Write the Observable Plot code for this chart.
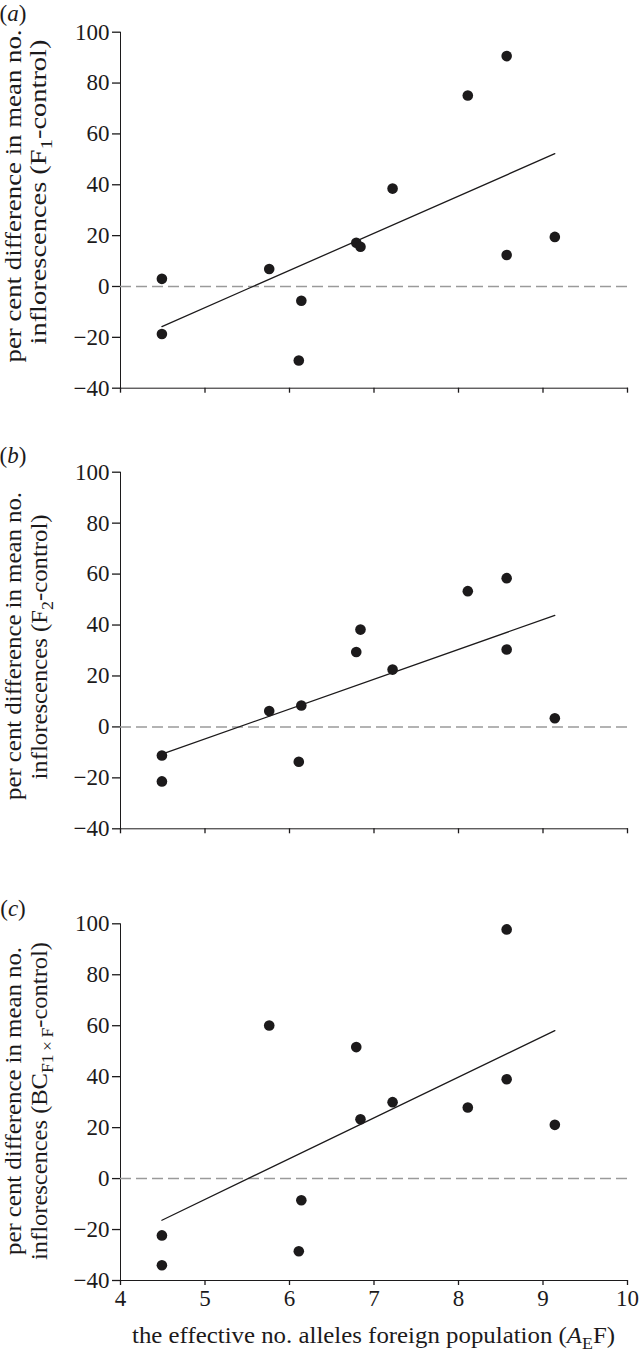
<!DOCTYPE html>
<html><head><meta charset="utf-8">
<script src="https://cdn.jsdelivr.net/npm/d3@7"></script>
<script src="https://cdn.jsdelivr.net/npm/@observablehq/plot@0.6"></script>
<style>
body{margin:0;background:#fff;}
#chart{position:relative;width:644px;height:1360px;background:#fff;}
#chart svg{position:absolute;left:0;display:block;overflow:visible;}
#chart svg text{font-family:"Liberation Serif","Times New Roman",Times,serif;}
#chart svg g[aria-label*="axis"] path,#chart svg g[aria-label*="axis"] line{stroke-width:1.3px;}
</style></head><body><div id="chart"></div>
<script>
// effective no. alleles of the foreign population (shared x for all panels)
const xAE = [4.49, 4.49, 5.76, 6.11, 6.14, 6.79, 6.84, 7.22, 8.11, 8.57, 8.57, 9.14];
// percent difference in mean no. inflorescences
const yF1 = [3.0, -18.7, 6.9, -29.1, -5.6, 17.2, 15.6, 38.5, 75.1, 90.6, 12.4, 19.5];
const yF2 = [-11.2, -21.4, 6.2, -13.7, 8.4, 29.4, 38.2, 22.5, 53.3, 58.4, 30.4, 3.4];
const yBC = [-22.3, -34.0, 60.1, -28.5, -8.5, 51.6, 23.3, 30.0, 27.9, 97.8, 39.0, 21.1];
const yTicks = [-40, -20, 0, 20, 40, 60, 80, 100];
const xTicks = [4, 5, 6, 7, 8, 9, 10];
const panelLetters = ["a", "b", "c"];
const yLabelLine1 = "per cent difference in mean no.";
const yLabelLine2 = [
  [{t: "inflorescences (F"}, {t: "1", sub: true}, {t: "-control)"}],
  [{t: "inflorescences (F"}, {t: "2", sub: true}, {t: "-control)"}],
  [{t: "inflorescences (BC"}, {t: "F1\u2009×\u2009F", sub: true}, {t: "-control)"}]
];
const xLabelParts = [{t: "the effective no. alleles foreign population ("}, {t: "A", it: true}, {t: "E", sub: true}, {t: "F)"}];

const FONT = "Liberation Serif";
const INK = "#1c1a1b";

const layout = [
  {top: 0,   height: 430, mt: 31.7, mb: 42.3, letterY: 21, l1: {cy: 196, x: 21, len: 333}, l2: {cy: 192, x: 46, len: 305}, showX: false, ys: yF1},
  {top: 430, height: 430, mt: 41.7, mb: 31.7, letterY: 33, l1: {cy: 216, x: 21, len: 308}, l2: {cy: 217, x: 47, len: 265}, showX: false, ys: yF2},
  {top: 860, height: 500, mt: 63.3, mb: 80,   letterY: 56, l1: {cy: 241, x: 21, len: 308}, l2: {cy: 241, x: 47, len: 318}, showX: true, ys: yBC}
];

function addParts(text, parts, size) {
  let shifted = 0;
  for (const p of parts) {
    const ts = text.append("tspan").text(p.t);
    if (p.sub) {
      ts.attr("font-size", size * 0.72).attr("dy", 6 - shifted);
      shifted = 6;
    } else {
      if (shifted) ts.attr("dy", -shifted);
      shifted = 0;
    }
    if (p.it) ts.attr("font-style", "italic");
  }
}

const root = d3.select("#chart");
layout.forEach((L, i) => {
  const data = xAE.map((x, k) => ({x, y: L.ys[k]}));
  const svg = Plot.plot({
    width: 644,
    height: L.height,
    marginLeft: 120,
    marginRight: 17,
    marginTop: L.mt,
    marginBottom: L.mb,
    style: {fontFamily: FONT, fontSize: "23px", color: INK, background: "transparent"},
    x: {domain: [4, 10], ticks: xTicks, tickSize: 5, tickPadding: 4, line: true, label: null,
        tickFormat: L.showX ? (d => String(d)) : (() => "")},
    y: {domain: [-40, 100], ticks: yTicks, tickSize: 8, tickPadding: 3, line: true, label: null},
    marks: [
      Plot.ruleY([0], {stroke: "#9a9a9a", strokeWidth: 1.5, strokeDasharray: "11,5"}),
      Plot.linearRegressionY(data, {x: "x", y: "y", ci: 0, stroke: INK, strokeWidth: 1.3}),
      Plot.dot(data, {x: "x", y: "y", r: 5.3, fill: INK, stroke: "none"})
    ]
  });
  svg.style.top = L.top + "px";
  root.node().appendChild(svg);
  const s = d3.select(svg);

  // panel letter
  const lt = s.append("text").attr("x", 13).attr("y", L.letterY)
    .attr("font-size", 23).attr("fill", INK);
  lt.append("tspan").text("(");
  lt.append("tspan").attr("font-style", "italic").text(panelLetters[i]);
  lt.append("tspan").text(")");

  // y label, two lines
  const g1 = s.append("g").attr("transform", `translate(${L.l1.x},${L.l1.cy}) rotate(-90)`);
  g1.append("text").attr("text-anchor", "middle").attr("font-size", 24)
    .attr("fill", INK).attr("textLength", L.l1.len).attr("lengthAdjust", "spacingAndGlyphs")
    .text(yLabelLine1);
  const g2 = s.append("g").attr("transform", `translate(${L.l2.x},${L.l2.cy}) rotate(-90)`);
  const t2 = g2.append("text").attr("text-anchor", "middle").attr("font-size", 24)
    .attr("fill", INK).attr("textLength", L.l2.len).attr("lengthAdjust", "spacingAndGlyphs");
  addParts(t2, yLabelLine2[i], 24);

  if (L.showX) {
    const tx = s.append("text").attr("x", 373.5).attr("y", 483).attr("text-anchor", "middle")
      .attr("font-size", 24).attr("fill", INK)
      .attr("textLength", 483).attr("lengthAdjust", "spacingAndGlyphs");
    addParts(tx, xLabelParts, 24);
  }
});
</script></body></html>
